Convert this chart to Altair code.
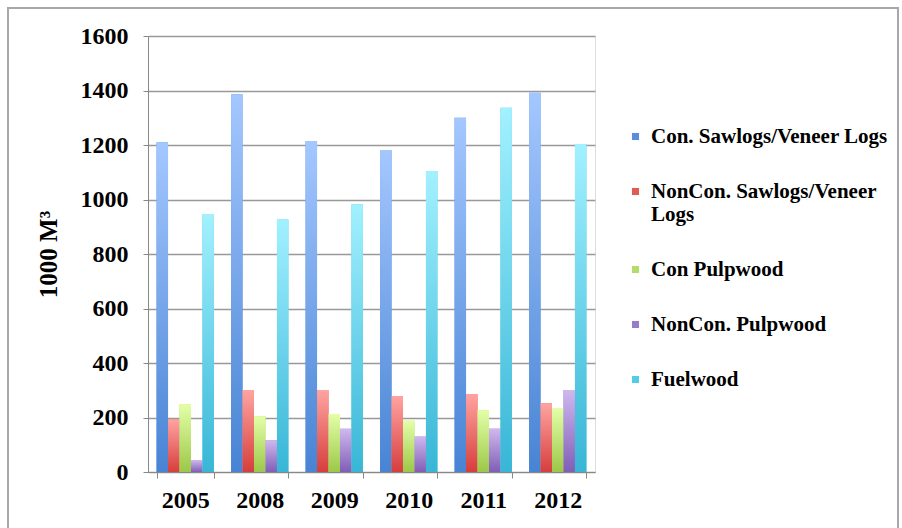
import altair as alt
import pandas as pd

years = ["2005", "2008", "2009", "2010", "2011", "2012"]
series = ["Con. Sawlogs/Veneer Logs", "NonCon. Sawlogs/Veneer Logs",
          "Con Pulpwood", "NonCon. Pulpwood", "Fuelwood"]
con_saw = [1210, 1386, 1215, 1182, 1300, 1392]
noncon_saw = [193, 301, 301, 279, 286, 252]
con_pulp = [249, 205, 213, 188, 227, 235]
noncon_pulp = [44, 117, 159, 130, 159, 301]
fuelwood = [947, 927, 983, 1105, 1337, 1204]

values = [con_saw, noncon_saw, con_pulp, noncon_pulp, fuelwood]
legend_colors = ["#5A8EDC", "#E05A58", "#B4DC6A", "#9A7BC8", "#55CCE6"]
light = ["#A4C7FF", "#FFA4A1", "#E3FFA8", "#CFB8EF", "#A2F1FF"]
dark = ["#4884D4", "#D63E3C", "#9CC848", "#805EB6", "#38B6D6"]

rows = []
for s, vals in zip(series, values):
    for y, v in zip(years, vals):
        rows.append({"year": y, "series": s, "value": v})
df = pd.DataFrame(rows)

FONT = "Times New Roman, Liberation Serif, DejaVu Serif, serif"

x_enc = alt.X("year:N", sort=years, title=None,
              scale=alt.Scale(paddingInner=0.23, paddingOuter=0.115),
              axis=alt.Axis(labelAngle=0, labelFont=FONT, labelFontSize=24,
                            labelFontWeight="bold", labelColor="#000",
                            tickBand="extent", domainColor="#888",
                            tickColor="#888", tickSize=6, labelPadding=10,
                            grid=False))
xo_enc = alt.XOffset("series:N", sort=series, scale=alt.Scale(domain=series))
y_enc = alt.Y("value:Q", title="1000 M³",
              scale=alt.Scale(domain=[0, 1600]),
              axis=alt.Axis(values=list(range(0, 1601, 200)), format="d",
                            labelFont=FONT,
                            labelFontSize=24, labelFontWeight="bold",
                            labelColor="#000", titleFont=FONT,
                            titleFontSize=25, titleFontWeight="bold",
                            titleColor="#000", titlePadding=19,
                            tickSize=5, labelPadding=15, tickColor="#888",
                            domainColor="#888", gridColor="#999",
                            gridWidth=1.5))

base = alt.Chart(df).mark_bar().encode(
    x=x_enc, xOffset=xo_enc, y=y_enc,
    color=alt.Color("series:N", sort=series,
                    scale=alt.Scale(domain=series, range=legend_colors),
                    legend=alt.Legend(
                        title=None, orient="none", legendX=477, legendY=90,
                        symbolType="square", symbolSize=50,
                        symbolStrokeWidth=0,
                        labelFont=FONT, labelFontSize=21,
                        labelFontWeight="bold", labelColor="#000",
                        labelLimit=400, rowPadding=33, labelOffset=5,
                        labelExpr="datum.label == 'NonCon. Sawlogs/Veneer Logs' ? ['NonCon. Sawlogs/Veneer', 'Logs'] : datum.label")),
)

layers = [base]
for s, lo, hi in zip(series, dark, light):
    grad = {"gradient": "linear", "x1": 0, "y1": 1, "x2": 0, "y2": 0,
            "stops": [{"offset": 0, "color": lo}, {"offset": 1, "color": hi}]}
    layers.append(
        alt.Chart(df).transform_filter(alt.datum.series == s)
        .mark_bar(color=grad)
        .encode(x=x_enc, xOffset=xo_enc, y=y_enc)
    )

border = alt.Chart(alt.Data(values=[{}])).mark_rect(
    fill=None, stroke="#a8a8a8", strokeWidth=2
).encode(x=alt.value(-140), x2=alt.value(750), y=alt.value(-28), y2=alt.value(520))

chart = alt.layer(*layers, border).properties(
    width=447, height=436,
    autosize=alt.AutoSizeParams(type="none"),
    padding={"left": 148, "top": 36, "right": 307, "bottom": 56},
).configure_view(stroke=None).configure(background="white")

chart.save("out.html", embed_options={"renderer": "svg", "actions": False})
